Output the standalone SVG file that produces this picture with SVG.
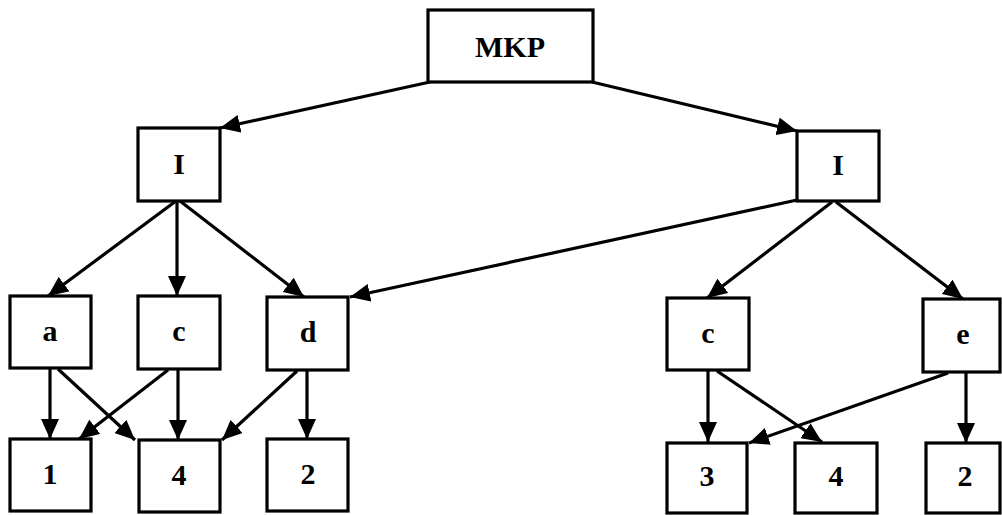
<svg xmlns="http://www.w3.org/2000/svg" width="1002" height="515" viewBox="0 0 1002 515">
<style>
.box{fill:#fff;stroke:#000;stroke-width:3.2}
.lbl{font-family:"Liberation Serif","Times New Roman",serif;font-weight:bold;font-size:30px;text-anchor:middle;dominant-baseline:central;fill:#000}
.edge{stroke:#000;stroke-width:3.2;fill:none;marker-end:url(#ah)}
</style>
<defs>
<marker id="ah" markerUnits="userSpaceOnUse" markerWidth="22" markerHeight="18" refX="20" refY="9" orient="auto">
<path d="M0,0 L20,9 L0,18 Z" fill="#000"/>
</marker>
</defs>
<rect width="1002" height="515" fill="#fff"/>
<g id="connectors">
<line class="edge" x1="430" y1="82" x2="220" y2="128"/>
<line class="edge" x1="592" y1="82" x2="797" y2="131"/>
<line class="edge" x1="176" y1="201" x2="48" y2="296"/>
<line class="edge" x1="177" y1="201" x2="177" y2="296"/>
<line class="edge" x1="180" y1="201" x2="304" y2="297"/>
<line class="edge" x1="797" y1="200" x2="350" y2="297"/>
<line class="edge" x1="832" y1="202" x2="707" y2="298"/>
<line class="edge" x1="836" y1="202" x2="963" y2="299"/>
<line class="edge" x1="50" y1="369" x2="50" y2="439"/>
<line class="edge" x1="58" y1="369" x2="135" y2="440"/>
<line class="edge" x1="168" y1="370" x2="79" y2="439"/>
<line class="edge" x1="178" y1="370" x2="178" y2="440"/>
<line class="edge" x1="297" y1="371" x2="222" y2="440"/>
<line class="edge" x1="307" y1="371" x2="307" y2="439"/>
<line class="edge" x1="708" y1="371" x2="708" y2="442"/>
<line class="edge" x1="717" y1="371" x2="822" y2="442"/>
<line class="edge" x1="948" y1="373" x2="749" y2="443"/>
<line class="edge" x1="966" y1="373" x2="966" y2="443"/>
</g>
<g id="n-mkp"><rect class="box" x="428" y="10" width="165" height="72"/><text class="lbl" x="510" y="46">MKP</text></g>
<g id="n-i1"><rect class="box" x="138" y="128" width="82" height="73"/><text class="lbl" x="179" y="163">I</text></g>
<g id="n-i2"><rect class="box" x="797" y="131" width="82" height="70"/><text class="lbl" x="838" y="164">I</text></g>
<g id="n-a"><rect class="box" x="10" y="296" width="81" height="72"/><text class="lbl" x="50" y="330">a</text></g>
<g id="n-c1"><rect class="box" x="138" y="296" width="82" height="73"/><text class="lbl" x="179" y="330">c</text></g>
<g id="n-d"><rect class="box" x="267" y="297" width="81" height="73"/><text class="lbl" x="308" y="331">d</text></g>
<g id="n-c2"><rect class="box" x="667" y="298" width="82" height="72"/><text class="lbl" x="708" y="332">c</text></g>
<g id="n-e"><rect class="box" x="923" y="299" width="77" height="73"/><text class="lbl" x="963" y="333">e</text></g>
<g id="n-1"><rect class="box" x="10" y="439" width="81" height="72"/><text class="lbl" x="50" y="473">1</text></g>
<g id="n-4a"><rect class="box" x="139" y="440" width="81" height="72"/><text class="lbl" x="179" y="474">4</text></g>
<g id="n-2a"><rect class="box" x="267" y="439" width="81" height="72"/><text class="lbl" x="308" y="473">2</text></g>
<g id="n-3"><rect class="box" x="667" y="443" width="80" height="70"/><text class="lbl" x="707" y="475">3</text></g>
<g id="n-4b"><rect class="box" x="795" y="443" width="82" height="70"/><text class="lbl" x="836" y="475">4</text></g>
<g id="n-2b"><rect class="box" x="926" y="443" width="74" height="70"/><text class="lbl" x="965" y="475">2</text></g>
</svg>
